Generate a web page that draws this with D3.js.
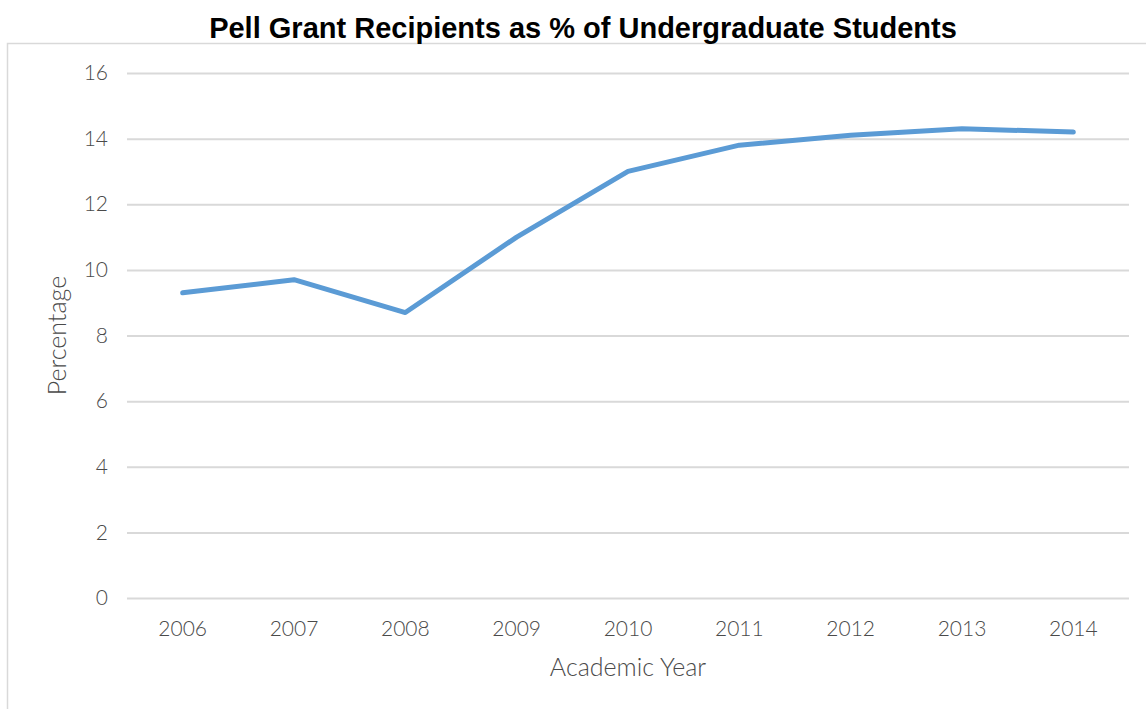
<!DOCTYPE html>
<html>
<head>
<meta charset="utf-8">
<script src="https://cdnjs.cloudflare.com/ajax/libs/d3/7.8.5/d3.min.js"></script>
<style>
  body { margin: 0; background: #fff; }
  svg { display: block; }
</style>
</head>
<body>
<div id="chart"></div>
<script>
var years = ["2006", "2007", "2008", "2009", "2010", "2011", "2012", "2013", "2014"]
var pct = [9.3, 9.7, 8.7, 11.0, 13.0, 13.8, 14.1, 14.3, 14.2]
var yTicks = [0, 2, 4, 6, 8, 10, 12, 14, 16]

var w = 1146, h = 709
var m = {left: 127, right: 17, top: 73, bottom: 111}

var svg = d3.select("#chart").append("svg")
  .attr("width", w)
  .attr("height", h)

// chart frame (only left + top visible)
svg.append("path")
  .attr("d", "M7.5," + h + "V43.5H" + w)
  .attr("fill", "none")
  .attr("stroke", "#d9d9d9")
  .attr("stroke-width", 1.5)

var x = d3.scaleBand().domain(years).range([m.left, w - m.right])
var y = d3.scaleLinear().domain([0, 16]).range([h - m.bottom, m.top])

var tickFont = "Lato, 'Open Sans', sans-serif"
var txtCol = "#4a4a4a"

// gridlines + y labels
var yAxis = d3.axisLeft(y).tickValues(yTicks).tickSize(-(w - m.right - m.left)).tickPadding(19)
var gy = svg.append("g")
  .attr("transform", "translate(" + m.left + ",0)")
  .call(yAxis)
gy.select(".domain").remove()
gy.selectAll(".tick line").attr("stroke", "#d9d9d9").attr("stroke-width", 2)
gy.selectAll(".tick text")
  .attr("fill", txtCol)
  .style("font-family", tickFont)
  .style("font-weight", 300)
  .style("font-size", "21px")

var xAxis = d3.axisBottom(x).tickSize(0).tickPadding(23)
var gx = svg.append("g")
  .attr("transform", "translate(0," + (h - m.bottom) + ")")
  .call(xAxis)
gx.select(".domain").remove()
gx.selectAll(".tick text")
  .attr("fill", txtCol)
  .style("font-family", tickFont)
  .style("font-weight", 300)
  .style("font-size", "21px")

var line = d3.line()
  .x(function(d, i){ return x(years[i]) + x.bandwidth() / 2 })
  .y(function(d){ return y(d) })

svg.append("path")
  .datum(pct)
  .attr("d", line)
  .attr("fill", "none")
  .attr("stroke", "#5b9bd5")
  .attr("stroke-width", 5)
  .attr("stroke-linecap", "round")
  .attr("stroke-linejoin", "round")

svg.append("text")
  .attr("x", 583)
  .attr("y", 38)
  .attr("text-anchor", "middle")
  .style("font-family", "'Liberation Sans', Arial, sans-serif")
  .style("font-weight", "bold")
  .style("font-size", "29px")
  .text("Pell Grant Recipients as % of Undergraduate Students")

svg.append("text")
  .attr("x", 628)
  .attr("y", 676)
  .attr("text-anchor", "middle")
  .attr("fill", txtCol)
  .style("font-family", tickFont)
  .style("font-weight", 300)
  .style("font-size", "25px")
  .text("Academic Year")

svg.append("text")
  .attr("transform", "translate(66," + y(8) + ") rotate(-90)")
  .attr("text-anchor", "middle")
  .attr("fill", txtCol)
  .style("font-family", tickFont)
  .style("font-weight", 300)
  .style("font-size", "25px")
  .text("Percentage")
</script>
</body>
</html>
